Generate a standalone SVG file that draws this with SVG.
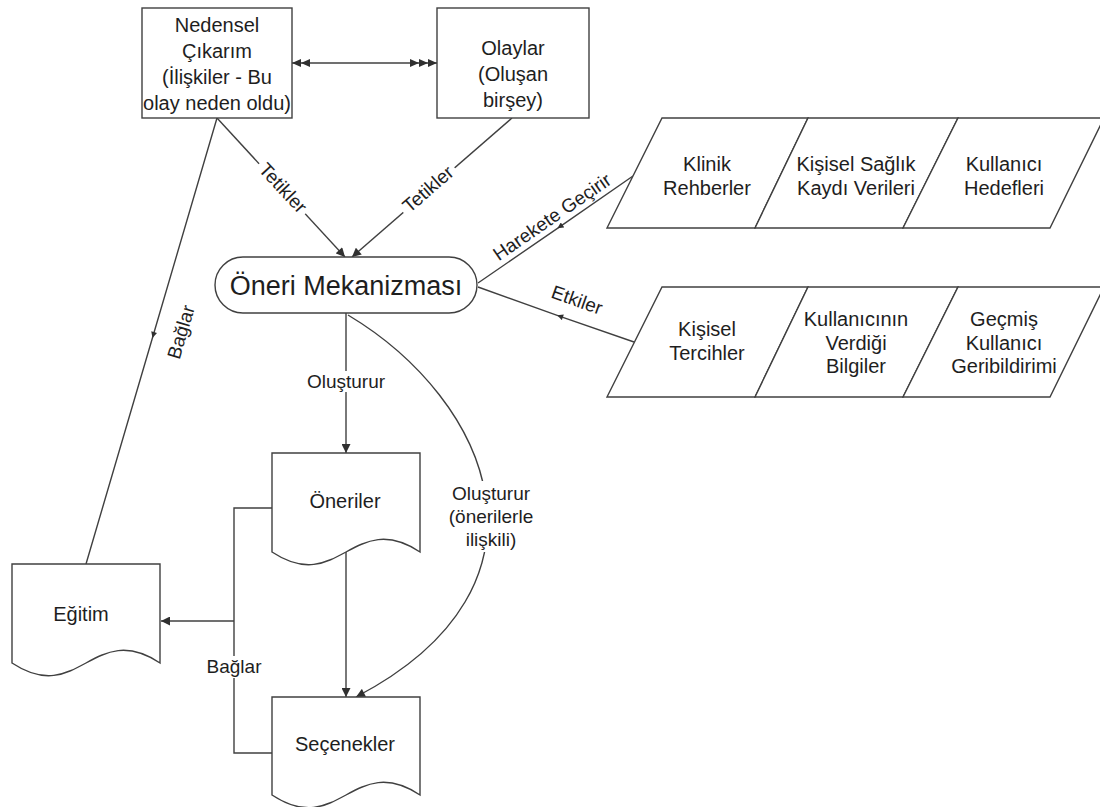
<svg xmlns="http://www.w3.org/2000/svg" width="1100" height="807" viewBox="0 0 1100 807">
  <style>
    .shape { fill: #ffffff; stroke: #404040; stroke-width: 1.4; }
    .line { fill: none; stroke: #404040; stroke-width: 1.4; }
    .head { fill: #303030; stroke: none; }
    .bg { fill: #ffffff; stroke: none; }
    text { font-family: "Liberation Sans", Arial, sans-serif; fill: #1e1e1e; text-anchor: middle; }
    .n { font-size: 20px; }
    .big { font-size: 27px; }
    .lbl { font-size: 19px; }
  </style>
  <defs>
    <marker id="arr" viewBox="0 0 10 10" refX="10" refY="5" markerWidth="10" markerHeight="9" markerUnits="userSpaceOnUse" orient="auto">
      <path d="M0,0 L10,5 L0,10 z" class="head"/>
    </marker>
    <marker id="mid" viewBox="0 0 10 10" refX="5" refY="5" markerWidth="7" markerHeight="6" markerUnits="userSpaceOnUse" orient="auto">
      <path d="M0,0 L10,5 L0,10 z" class="head"/>
    </marker>
  </defs>

  <!-- connectors -->
  <g id="connectors">
    <!-- causal link between the two top boxes -->
    <line class="line" x1="292" y1="63" x2="437" y2="63"/>
    <polygon class="head" points="292,63 301,59 301,67"/>
    <polygon class="head" points="301,63 310,59 310,67"/>
    <polygon class="head" points="437,63 428,59 428,67"/>
    <polygon class="head" points="428,63 419,59 419,67"/>
    <polygon class="head" points="419,63 410,59 410,67"/>

    <!-- Tetikler -->
    <path class="line" d="M217,118 L345,257" marker-end="url(#arr)"/>
    <path class="line" d="M512,118 L352,257" marker-end="url(#arr)"/>
    <g transform="translate(283,188) rotate(47.2)">
      <rect class="bg" x="-34" y="-11" width="68" height="21"/>
      <text class="lbl" y="6.5">Tetikler</text>
    </g>
    <g transform="translate(428,189) rotate(-40.8)">
      <rect class="bg" x="-34" y="-11" width="68" height="21"/>
      <text class="lbl" y="6.5">Tetikler</text>
    </g>

    <!-- Bağlar (to Eğitim) -->
    <path class="line" d="M217,118 L153.3,335 L86,564" marker-mid="url(#mid)"/>
    <text class="lbl" transform="translate(181,332) rotate(-73.6)" y="6.5">Bağlar</text>

    <!-- Harekete Geçirir -->
    <path class="line" d="M633,176 L560,226.6 L478,283" marker-mid="url(#mid)"/>
    <text class="lbl" transform="translate(552,217) rotate(-34.5)" y="6.5">Harekete Geçirir</text>

    <!-- Etkiler -->
    <path class="line" d="M634,342 L560,316.3 L478,287" marker-mid="url(#mid)"/>
    <text class="lbl" transform="translate(577,300) rotate(19.4)" y="6.5">Etkiler</text>

    <!-- Oluşturur -->
    <path class="line" d="M346,313 L346,453" marker-end="url(#arr)"/>
    <rect class="bg" x="304" y="371" width="84" height="21"/>
    <text class="lbl" x="346" y="388">Oluşturur</text>

    <!-- Oluşturur (önerilerle ilişkili) -->
    <path class="line" d="M348,315 C490,400 570,585 356,697" marker-end="url(#arr)"/>
    <rect class="bg" x="448" y="481" width="86" height="71"/>
    <text class="lbl" x="491" y="500">Oluşturur</text>
    <text class="lbl" x="491" y="523">(önerilerle</text>
    <text class="lbl" x="491" y="546">ilişkili)</text>

    <!-- Öneriler to Seçenekler -->
    <path class="line" d="M346,552 L346,697" marker-end="url(#arr)"/>

    <!-- Bağlar bracket to Eğitim -->
    <path class="line" d="M272,508 H234 V753 H272"/>
    <path class="line" d="M234,621 H161" marker-end="url(#arr)"/>
    <rect class="bg" x="205" y="656" width="58" height="22"/>
    <text class="lbl" x="234" y="673">Bağlar</text>
  </g>

  <!-- top boxes -->
  <g id="nedensel">
    <rect class="shape" x="142" y="8" width="150" height="110"/>
    <text class="n" x="217" y="32">Nedensel</text>
    <text class="n" x="217" y="58">Çıkarım</text>
    <text class="n" x="217" y="84">(İlişkiler - Bu</text>
    <text class="n" x="217" y="110">olay neden oldu)</text>
  </g>
  <g id="olaylar">
    <rect class="shape" x="437" y="8" width="152" height="110"/>
    <text class="n" x="513" y="55">Olaylar</text>
    <text class="n" x="513" y="81">(Oluşan</text>
    <text class="n" x="513" y="107">birşey)</text>
  </g>

  <!-- central mechanism -->
  <g id="oneri-mekanizmasi">
    <rect class="shape" x="215" y="257" width="262" height="56" rx="28" ry="28"/>
    <text class="big" x="346" y="294.5">Öneri Mekanizması</text>
  </g>

  <!-- input parallelograms, upper row -->
  <g id="klinik-rehberler">
    <polygon class="shape" points="662,118 808,118 755,228 607,228"/>
    <text class="n" x="707" y="170.5">Klinik</text>
    <text class="n" x="707" y="194.5">Rehberler</text>
  </g>
  <g id="kisisel-saglik">
    <polygon class="shape" points="808,118 958,118 903,228 755,228"/>
    <text class="n" x="856" y="170.5">Kişisel Sağlık</text>
    <text class="n" x="856" y="194.5">Kaydı Verileri</text>
  </g>
  <g id="kullanici-hedefleri">
    <polygon class="shape" points="958,118 1104,118 1050,228 903,228"/>
    <text class="n" x="1004" y="170.5">Kullanıcı</text>
    <text class="n" x="1004" y="194.5">Hedefleri</text>
  </g>

  <!-- input parallelograms, lower row -->
  <g id="kisisel-tercihler">
    <polygon class="shape" points="662,287 808,287 755,397 607,397"/>
    <text class="n" x="707" y="336">Kişisel</text>
    <text class="n" x="707" y="360">Tercihler</text>
  </g>
  <g id="kullanicinin-bilgiler">
    <polygon class="shape" points="808,287 958,287 903,397 755,397"/>
    <text class="n" x="856" y="326">Kullanıcının</text>
    <text class="n" x="856" y="349.5">Verdiği</text>
    <text class="n" x="856" y="373">Bilgiler</text>
  </g>
  <g id="gecmis-geribildirim">
    <polygon class="shape" points="958,287 1104,287 1050,397 903,397"/>
    <text class="n" x="1004" y="326">Geçmiş</text>
    <text class="n" x="1004" y="349.5">Kullanıcı</text>
    <text class="n" x="1004" y="373">Geribildirimi</text>
  </g>

  <!-- document shapes -->
  <g id="oneriler">
    <path class="shape" d="M272,453 H420 V552 C353.4,508 338.6,596 272,552 Z"/>
    <text class="n" x="345" y="508">Öneriler</text>
  </g>
  <g id="egitim">
    <path class="shape" d="M12,564 H160 V663 C93.4,619 78.6,707 12,663 Z"/>
    <text class="n" x="81" y="620.5">Eğitim</text>
  </g>
  <g id="secenekler">
    <path class="shape" d="M272,697 H420 V795 C353.4,751 338.6,839 272,795 Z"/>
    <text class="n" x="345" y="751">Seçenekler</text>
  </g>
</svg>
